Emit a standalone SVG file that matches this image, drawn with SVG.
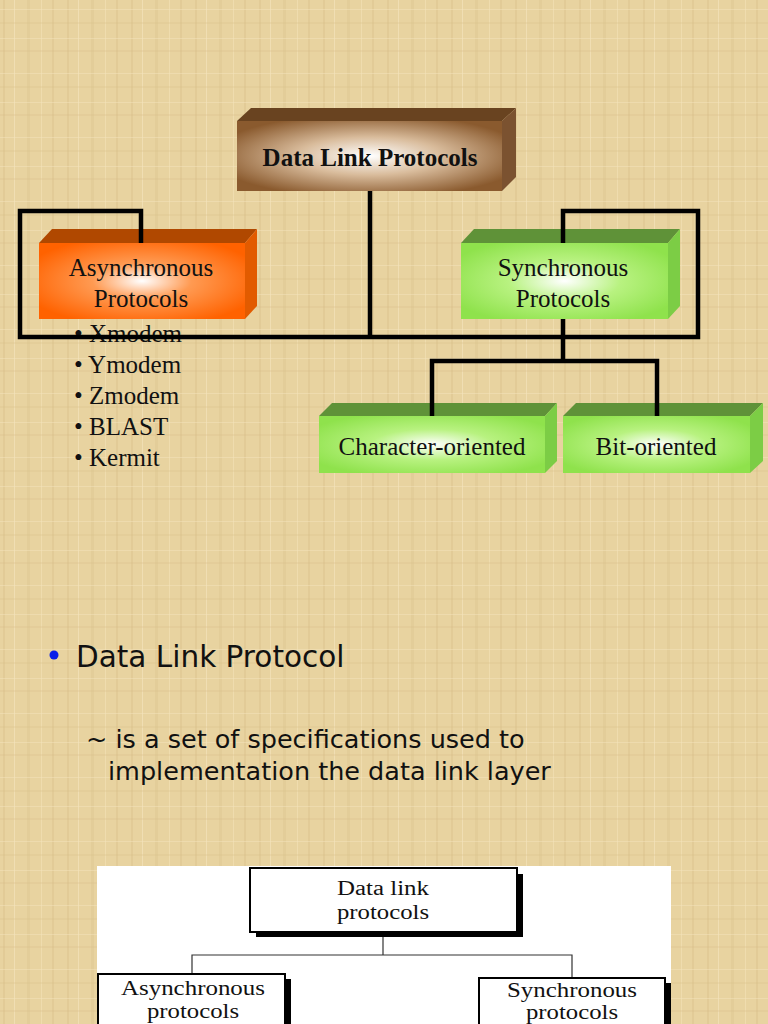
<svg xmlns="http://www.w3.org/2000/svg" width="768" height="1024" viewBox="0 0 768 1024">
<defs>
  <pattern id="tex" width="64" height="64" patternUnits="userSpaceOnUse">
    <rect width="64" height="64" fill="#e8d3a0"/>
    <rect x="3" width="2" height="64" fill="#d6bd86" opacity="0.35"/>
    <rect x="14" width="1" height="64" fill="#f5e6c0" opacity="0.6"/>
    <rect x="27" width="3" height="64" fill="#d9c18a" opacity="0.3"/>
    <rect x="41" width="1" height="64" fill="#f3e2b8" opacity="0.6"/>
    <rect x="52" width="2" height="64" fill="#d4bb82" opacity="0.3"/>
    <rect y="9" width="64" height="1" fill="#f4e4bc" opacity="0.5"/>
    <rect y="22" width="64" height="2" fill="#d8c089" opacity="0.25"/>
    <rect y="38" width="64" height="1" fill="#f4e4bc" opacity="0.5"/>
    <rect y="50" width="64" height="2" fill="#d6bd86" opacity="0.25"/>
  </pattern>
  <radialGradient id="gBrown" cx="50%" cy="50%" r="60%">
    <stop offset="0" stop-color="#ffffff"/>
    <stop offset="0.45" stop-color="#d9bc9c"/>
    <stop offset="1" stop-color="#8a5a2e"/>
  </radialGradient>
  <radialGradient id="gOrange" cx="50%" cy="50%" r="60%">
    <stop offset="0" stop-color="#ffffff"/>
    <stop offset="0.4" stop-color="#ff9a52"/>
    <stop offset="1" stop-color="#ff6200"/>
  </radialGradient>
  <radialGradient id="gGreen" cx="50%" cy="50%" r="60%">
    <stop offset="0" stop-color="#ffffff"/>
    <stop offset="0.45" stop-color="#b8f280"/>
    <stop offset="1" stop-color="#8fe24c"/>
  </radialGradient>
  <style>
    .serif { font-family: "Liberation Serif", "Times New Roman", serif; fill: #111; }
    .lbl { font-size: 25px; text-anchor: middle; }
    .flbl { font-size: 20.5px; text-anchor: middle; }
    .bold { font-weight: bold; }
    .sans { font-family: "DejaVu Sans", sans-serif; fill: #111; }
    .conn { fill: none; stroke: #000; stroke-width: 4.5; stroke-linejoin: miter; }
    .thin { fill: none; stroke: #333; stroke-width: 1.2; }
    .frame { fill: #fff; stroke: #000; stroke-width: 2; }
  </style>
</defs>

<rect width="768" height="1024" fill="url(#tex)"/>

<g id="node-datalink">
  <polygon points="237,121 251,108 516,108 502,121" fill="#694320"/>
  <polygon points="502,121 516,108 516,177 502,191" fill="#7b5230"/>
  <rect x="237" y="121" width="265" height="70" fill="url(#gBrown)"/>
  <text class="serif lbl bold" x="370" y="166">Data Link Protocols</text>
</g>

<g id="node-async">
  <polygon points="39,243 52,229 257,229 245,243" fill="#b04800"/>
  <polygon points="245,243 257,229 257,306 245,319" fill="#e25b00"/>
  <rect x="39" y="243" width="206" height="76" fill="url(#gOrange)"/>
  <text class="serif lbl" x="141" y="276">Asynchronous<tspan x="141" y="307">Protocols</tspan></text>
</g>

<g id="async-list" class="serif" font-size="25">
  <text x="74" y="342">• Xmodem</text>
  <text x="74" y="373">• Ymodem</text>
  <text x="74" y="404">• Zmodem</text>
  <text x="74" y="435">• BLAST</text>
  <text x="74" y="466">• Kermit</text>
</g>

<g id="node-sync">
  <polygon points="461,243 474,229 680,229 668,243" fill="#5f9238"/>
  <polygon points="668,243 680,229 680,306 668,319" fill="#7ccd45"/>
  <rect x="461" y="243" width="207" height="76" fill="url(#gGreen)"/>
  <text class="serif lbl" x="563" y="276">Synchronous<tspan x="563" y="307">Protocols</tspan></text>
</g>

<g id="node-char">
  <polygon points="319,416 332,403 557,403 545,416" fill="#5f9238"/>
  <polygon points="545,416 557,403 557,461 545,473" fill="#7ccd45"/>
  <rect x="319" y="416" width="226" height="57" fill="url(#gGreen)"/>
  <text class="serif lbl" x="432" y="455">Character-oriented</text>
</g>

<g id="node-bit">
  <polygon points="563,416 576,403 763,403 750,416" fill="#5f9238"/>
  <polygon points="750,416 763,403 763,461 750,473" fill="#7ccd45"/>
  <rect x="563" y="416" width="187" height="57" fill="url(#gGreen)"/>
  <text class="serif lbl" x="656" y="455">Bit-oriented</text>
</g>

<g id="connectors">
  <polyline class="conn" points="141,243 141,211 20,211 20,337 698,337 698,211 563,211 563,243"/>
  <line class="conn" x1="370" y1="191" x2="370" y2="337"/>
  <line class="conn" x1="563" y1="319" x2="563" y2="361"/>
  <polyline class="conn" points="432,416 432,361 657,361 657,416"/>
</g>

<g id="text-body">
  <circle cx="54" cy="655" r="4.5" fill="#0a1ee8"/>
  <text class="sans" x="76" y="667" font-size="29.5">Data Link Protocol</text>
  <text class="sans" x="86" y="748" font-size="25.5">~ is a set of specifications used to<tspan x="108" y="780">implementation the data link layer</tspan></text>
</g>

<g id="figure">
  <rect x="97" y="866" width="574" height="158" fill="#ffffff"/>
  <g id="fig-connectors">
    <line class="thin" x1="383" y1="932" x2="383" y2="955"/>
    <polyline class="thin" points="192,974 192,955 572,955 572,978"/>
  </g>
  <g id="fig-node-top">
    <rect x="256" y="874" width="267" height="63" fill="#000"/>
    <rect class="frame" x="250" y="868" width="267" height="64"/>
    <text class="serif flbl" x="383" y="895" textLength="92" lengthAdjust="spacingAndGlyphs">Data link</text>
    <text class="serif flbl" x="383" y="919" textLength="92" lengthAdjust="spacingAndGlyphs">protocols</text>
  </g>
  <g id="fig-node-async">
    <rect x="104" y="979" width="187" height="60" fill="#000"/>
    <rect class="frame" x="98" y="974" width="187" height="60"/>
    <text class="serif flbl" x="193" y="995" textLength="144" lengthAdjust="spacingAndGlyphs">Asynchronous</text>
    <text class="serif flbl" x="193" y="1018" textLength="92" lengthAdjust="spacingAndGlyphs">protocols</text>
  </g>
  <g id="fig-node-sync">
    <rect x="485" y="983" width="186" height="60" fill="#000"/>
    <rect class="frame" x="479" y="978" width="186" height="60"/>
    <text class="serif flbl" x="572" y="997" textLength="130" lengthAdjust="spacingAndGlyphs">Synchronous</text>
    <text class="serif flbl" x="572" y="1019" textLength="92" lengthAdjust="spacingAndGlyphs">protocols</text>
  </g>
</g>
</svg>
